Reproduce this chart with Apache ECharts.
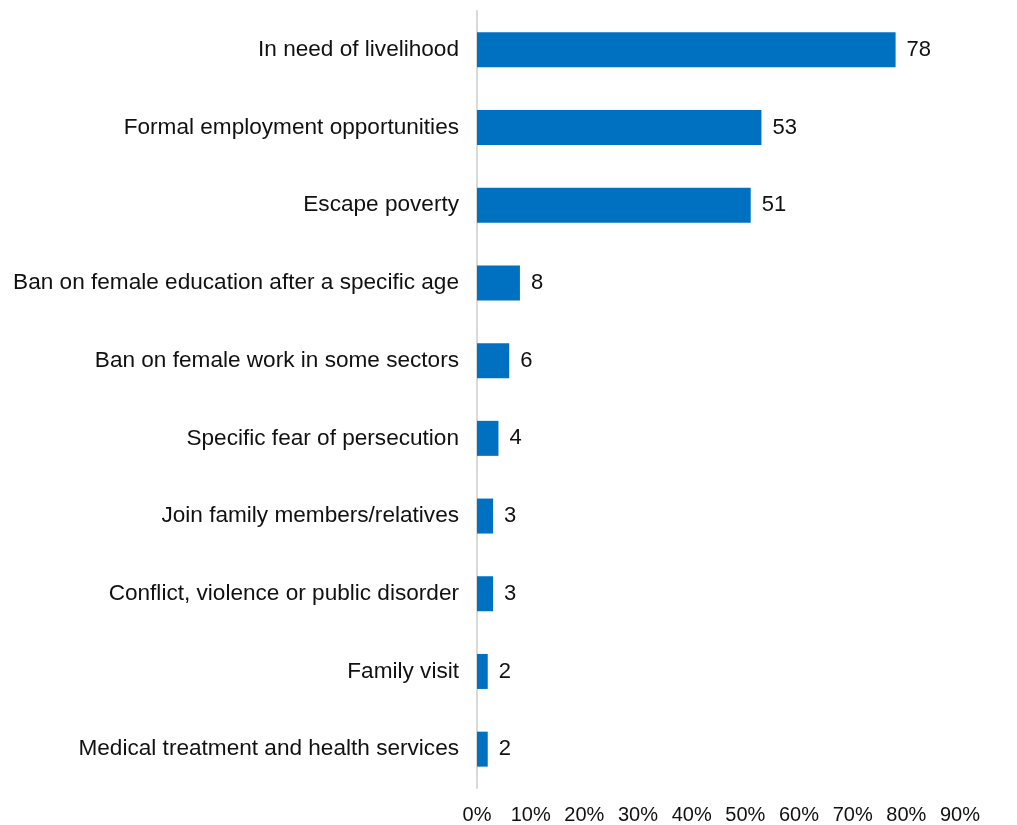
<!DOCTYPE html>
<html>
<head>
<meta charset="utf-8">
<script src="https://cdn.jsdelivr.net/npm/echarts@6/dist/echarts.min.js"></script>
<style>
html,body{margin:0;padding:0;background:#fff;}
#chart{width:1017px;height:825px;}
</style>
</head>
<body>
<div id="chart"></div>
<script>
const categories = [
  "In need of livelihood",
  "Formal employment opportunities",
  "Escape poverty",
  "Ban on female education after a specific age",
  "Ban on female work in some sectors",
  "Specific fear of persecution",
  "Join family members/relatives",
  "Conflict, violence or public disorder",
  "Family visit",
  "Medical treatment and health services"
];
const values = [78, 53, 51, 8, 6, 4, 3, 3, 2, 2];
const axisMin = 0;
const axisMax = 90;
const axisStep = 10;

const chart = echarts.init(document.getElementById('chart'));
const font = '"Liberation Sans", Arial, sans-serif';
chart.setOption({
  animation: false,
  grid: { left: 477, right: 57, top: 11, bottom: 37, containLabel: false },
  xAxis: {
    type: 'value', min: axisMin, max: axisMax, interval: axisStep,
    axisLine: { show: false }, axisTick: { show: false }, splitLine: { show: false },
    axisLabel: { formatter: '{value}%', color: '#111', fontSize: 20, fontFamily: font, margin: 17 }
  },
  yAxis: {
    type: 'category', data: categories, inverse: true,
    axisLine: { show: true, lineStyle: { color: '#d9d9d9', width: 2 } },
    axisTick: { show: false },
    axisLabel: { color: '#111', fontSize: 22.6, fontFamily: font, margin: 18 }
  },
  series: [{
    type: 'bar', data: values, barWidth: 35,
    itemStyle: { color: '#0070C0' },
    label: { show: true, position: 'right', distance: 11, color: '#111', fontSize: 22, fontFamily: font }
  }]
});
</script>
</body>
</html>
